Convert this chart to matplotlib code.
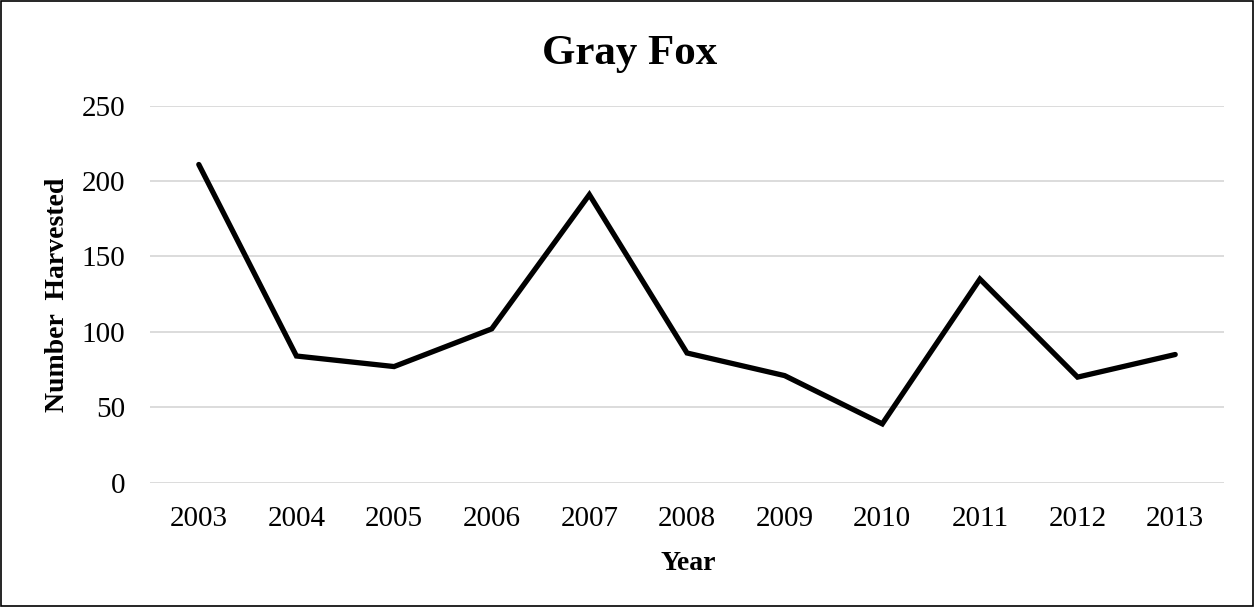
import numpy as np
import matplotlib.pyplot as plt
from matplotlib.patches import Rectangle

years = ['2003', '2004', '2005', '2006', '2007', '2008',
         '2009', '2010', '2011', '2012', '2013']
harvested = [211, 84, 77, 102, 191, 86, 71, 39, 135, 70, 85]
yticks = [0, 50, 100, 150, 200, 250]

plt.rcParams['font.family'] = ['Liberation Serif', 'DejaVu Serif']

fig = plt.figure(figsize=(12.54, 6.07), dpi=100)
ax1 = fig.add_axes([0.1196, 0.2048, 0.8565, 0.6211])

x = np.arange(len(years))
ax1.plot(x, harvested, c='k', lw=3.8, solid_joinstyle='miter', solid_capstyle='round', zorder=3)

ax1.set_xlim(-0.5, len(years) - 0.5)
ax1.set_ylim(0, 250)
ax1.set_yticks(yticks)
ax1.set_xticks(x)
ax1.set_xticklabels(years)
ax1.tick_params(length=0, labelsize=21, colors='#000000')
ax1.tick_params(axis='y', pad=18)
ax1.tick_params(axis='x', pad=17)
ax1.grid(True, axis='y', color='#d9d9d9', lw=1.3)
ax1.set_axisbelow(True)
for s in ax1.spines.values():
    s.set_visible(False)

# labels and title placed on the figure like the original
fig.text(0.5486, 0.061, 'Year', fontsize=20, fontweight='bold', ha='center', va='baseline')
fig.text(0.0455, 0.515, 'Number  Harvested', fontsize=20, fontweight='bold',
         rotation=90, ha='center', va='center')
fig.text(0.502, 0.895, 'Gray Fox', fontsize=31, fontweight='bold', ha='center', va='baseline')

fig.patches.append(Rectangle((0.0008, 0.0016), 0.9984, 0.9968, transform=fig.transFigure,
                             fill=False, ec='#000000', lw=1.2))

fig.savefig('out.png', dpi=100)
